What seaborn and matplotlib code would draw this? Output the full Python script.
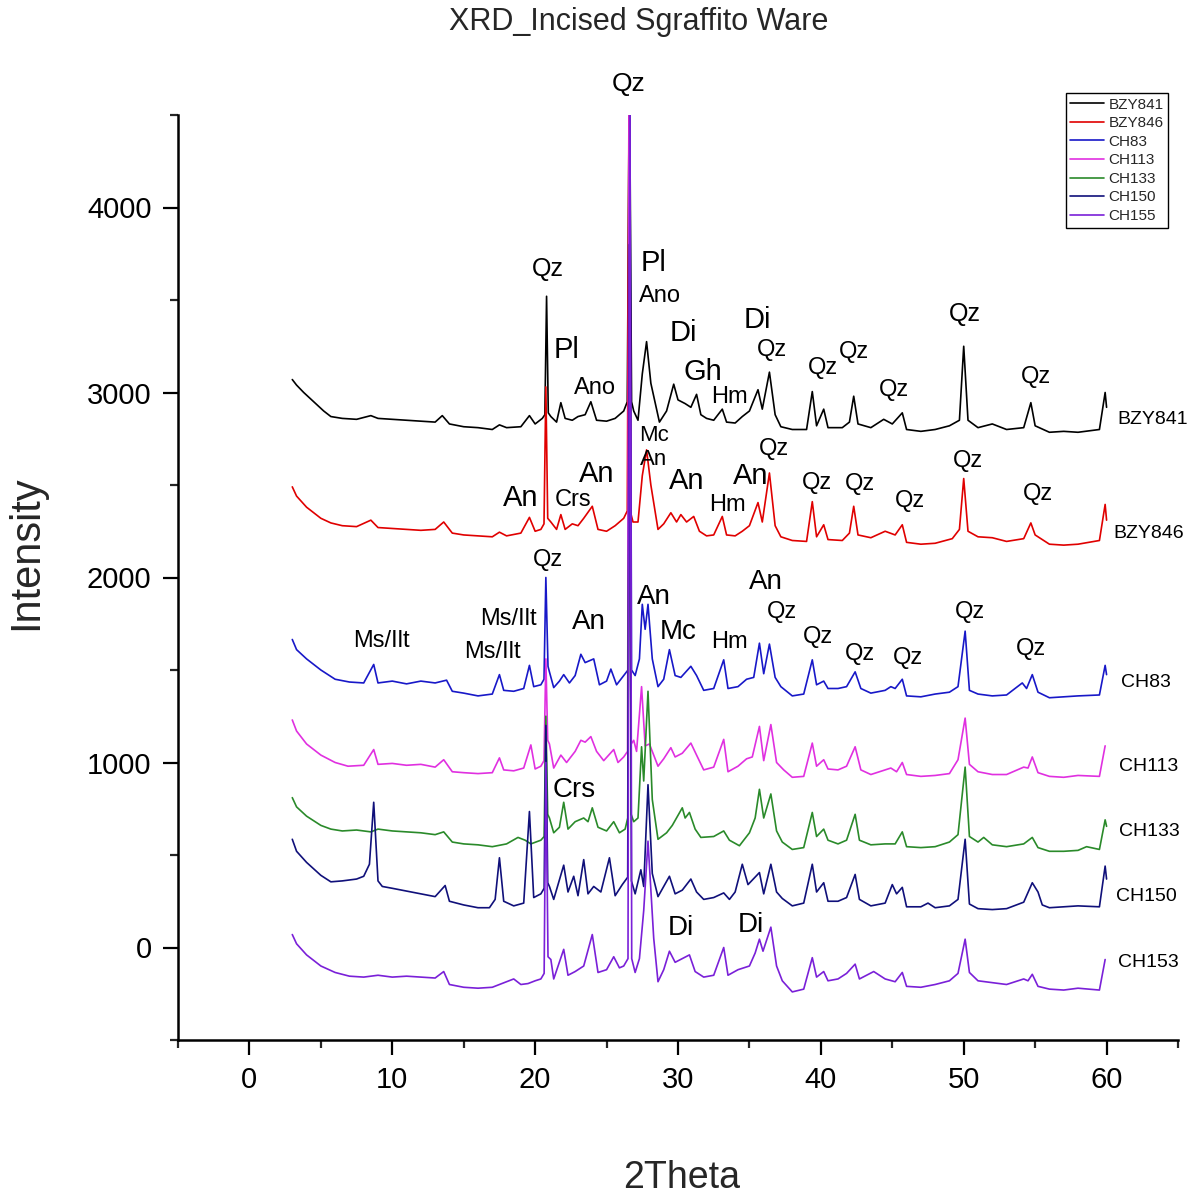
import matplotlib
matplotlib.use("Agg")
import matplotlib.pyplot as plt
from matplotlib.lines import Line2D
from matplotlib.ticker import MultipleLocator
import seaborn as sns
import pandas as pd

# ---------------- data (2theta, intensity as plotted, stacked) ----------------
samples = ["BZY841", "BZY846", "CH83", "CH113", "CH133", "CH150", "CH155"]
end_labels = ["BZY841", "BZY846", "CH83", "CH113", "CH133", "CH150", "CH153"]
colors = ["#000000", "#e00000", "#1818c8", "#e030e0", "#2a8a2a", "#10107a", "#7a20d8"]

bzy841_x = [3.0, 3.3, 3.8, 4.5, 5.2, 5.7, 6.5, 7.5, 8.5, 9.0, 10.0, 11.0, 12.0, 13.0, 13.5, 14.0, 15.0, 16.0, 17.0, 17.5,
            18.0, 19.0, 19.6, 20.0, 20.5, 20.68, 20.8, 20.92, 21.1, 21.5, 21.8, 22.1, 22.6, 23.0, 23.5, 23.9, 24.3, 25.0,
            25.6, 26.2, 26.45, 26.6, 26.75, 26.9, 27.2, 27.5, 27.8, 28.1, 28.7, 29.2, 29.7, 30.0, 30.5, 30.9, 31.3, 31.6,
            32.0, 32.5, 33.1, 33.4, 34.0, 34.5, 35.0, 35.6, 35.9, 36.4, 36.8, 37.2, 38.0, 39.0, 39.4, 39.7, 40.2, 40.5,
            41.5, 42.0, 42.3, 42.6, 43.5, 44.4, 45.0, 45.7, 46.0, 47.0, 48.0, 49.0, 49.7, 50.0, 50.3, 51.0, 52.0, 53.0,
            54.2, 54.7, 55.0, 56.0, 57.0, 58.0, 59.5, 59.9, 60.0]
bzy841_y = [3070, 3040, 3000, 2950, 2900, 2870, 2860, 2855, 2875, 2860, 2855, 2850, 2845, 2840, 2875, 2830, 2815, 2810, 2800, 2825,
            2810, 2815, 2875, 2830, 2860, 2880, 3520, 2890, 2870, 2840, 2945, 2860, 2850, 2870, 2880, 2950, 2850, 2845,
            2860, 2900, 2950, 4800, 2950, 2900, 2850, 3100, 3275, 3050, 2840, 2900, 3045, 2960, 2940, 2920, 2990, 2880,
            2860, 2850, 2910, 2840, 2835, 2870, 2900, 3015, 2910, 3110, 2880, 2815, 2800, 2800, 3005, 2820, 2910, 2810,
            2810, 2840, 2980, 2830, 2810, 2855, 2830, 2890, 2800, 2790, 2800, 2820, 2850, 3250, 2850, 2810, 2830, 2800,
            2810, 2945, 2820, 2785, 2790, 2785, 2800, 3000, 2920]

bzy846_x = [3.0, 3.3, 4.0, 5.0, 5.7, 6.5, 7.5, 8.5, 9.0, 10.0, 11.0, 12.0, 13.0, 13.6, 14.2, 15.0, 16.0, 17.0, 17.5, 18.0,
            19.0, 19.6, 20.0, 20.4, 20.62, 20.75, 20.88, 21.1, 21.5, 21.8, 22.1, 22.6, 23.0, 23.4, 24.0, 24.4, 25.0, 25.6,
            26.2, 26.45, 26.58, 26.72, 26.85, 27.2, 27.5, 27.8, 28.1, 28.6, 29.0, 29.5, 29.9, 30.2, 30.6, 31.1, 31.5, 32.0,
            32.5, 33.1, 33.4, 34.0, 34.5, 35.0, 35.6, 35.9, 36.4, 36.8, 37.2, 38.0, 39.0, 39.4, 39.7, 40.2, 40.5, 41.5,
            42.0, 42.3, 42.6, 43.5, 44.5, 45.2, 45.7, 46.0, 47.0, 48.0, 49.2, 49.7, 50.0, 50.3, 51.0, 52.0, 53.0, 54.2,
            54.7, 55.0, 56.0, 57.0, 58.0, 59.5, 59.9, 60.0]
bzy846_y = [2490, 2440, 2380, 2320, 2295, 2280, 2275, 2310, 2270, 2265, 2260, 2255, 2260, 2300, 2240, 2230, 2225, 2220, 2245, 2225,
            2240, 2325, 2250, 2260, 2290, 3030, 2320, 2300, 2260, 2340, 2260, 2290, 2280, 2320, 2385, 2260, 2250, 2280,
            2320, 2360, 4800, 2340, 2300, 2300, 2550, 2690, 2500, 2260, 2290, 2350, 2300, 2340, 2300, 2330, 2250, 2225,
            2230, 2330, 2230, 2225, 2250, 2280, 2405, 2300, 2565, 2280, 2220, 2200, 2195, 2410, 2220, 2285, 2205, 2200,
            2240, 2385, 2230, 2215, 2250, 2230, 2285, 2190, 2180, 2185, 2210, 2260, 2535, 2250, 2220, 2215, 2195, 2210,
            2295, 2230, 2180, 2175, 2180, 2200, 2395, 2310]

ch83_x = [3.0, 3.3, 4.0, 5.0, 6.0, 7.0, 8.0, 8.7, 9.0, 10.0, 11.0, 12.0, 13.0, 13.8, 14.2, 15.0, 16.0, 17.0, 17.5, 17.8,
          18.5, 19.2, 19.6, 19.9, 20.4, 20.62, 20.75, 20.9, 21.0, 21.3, 21.7, 22.0, 22.4, 22.8, 23.2, 23.5, 24.1, 24.5,
          25.0, 25.3, 25.7, 26.2, 26.5, 26.62, 26.75, 27.0, 27.3, 27.5, 27.7, 27.9, 28.2, 28.6, 29.0, 29.4, 29.8, 30.2,
          30.9, 31.3, 31.8, 32.5, 33.2, 33.5, 34.2, 34.8, 35.3, 35.7, 36.0, 36.4, 36.8, 37.2, 38.0, 38.8, 39.4, 39.7,
          40.2, 40.5, 41.2, 41.8, 42.4, 42.8, 43.5, 44.5, 44.9, 45.2, 45.7, 46.0, 47.0, 48.0, 49.0, 49.6, 50.1, 50.4,
          51.0, 52.0, 53.0, 54.1, 54.4, 54.8, 55.2, 56.0, 57.0, 58.0, 59.5, 59.9, 60.0]
ch83_y = [1665, 1610, 1560, 1500, 1450, 1435, 1430, 1530, 1430, 1440, 1425, 1440, 1430, 1445, 1385, 1375, 1360, 1370, 1475, 1390,
          1385, 1400, 1525, 1410, 1420, 1450, 2000, 1520, 1490, 1405, 1440, 1475, 1430, 1470, 1585, 1540, 1560, 1420,
          1440, 1505, 1420, 1470, 1500, 4800, 1500, 1470, 1560, 1855, 1720, 1855, 1560, 1410, 1450, 1610, 1470, 1460,
          1520, 1470, 1390, 1400, 1555, 1400, 1410, 1450, 1460, 1645, 1480, 1640, 1460, 1410, 1360, 1370, 1555, 1420,
          1440, 1400, 1400, 1410, 1490, 1400, 1375, 1390, 1410, 1400, 1450, 1360, 1355, 1370, 1380, 1410, 1710, 1390,
          1370, 1360, 1365, 1430, 1400, 1475, 1380, 1350, 1355, 1360, 1365, 1525, 1475]

ch113_x = [3.0, 3.3, 4.0, 5.0, 6.0, 6.9, 8.0, 8.7, 9.0, 10.0, 11.0, 12.0, 13.0, 13.6, 14.2, 15.0, 16.0, 17.0, 17.5, 17.8,
           18.5, 19.2, 19.7, 20.0, 20.4, 20.62, 20.75, 20.88, 21.0, 21.3, 21.8, 22.2, 22.8, 23.2, 23.5, 23.9, 24.3, 24.8,
           25.5, 25.8, 26.2, 26.47, 26.58, 26.72, 26.9, 27.1, 27.45, 27.7, 28.0, 28.6, 29.0, 29.5, 29.8, 30.3, 30.9, 31.3,
           31.8, 32.5, 33.2, 33.5, 34.2, 34.8, 35.2, 35.7, 36.0, 36.5, 36.9, 37.4, 38.0, 38.8, 39.4, 39.7, 40.2, 40.5,
           41.2, 41.8, 42.4, 42.8, 43.5, 44.5, 44.9, 45.3, 45.7, 46.0, 47.0, 48.0, 49.0, 49.6, 50.1, 50.4, 51.0, 52.0,
           53.0, 54.2, 54.5, 54.8, 55.2, 56.0, 57.0, 58.0, 59.5, 59.9]
ch113_y = [1230, 1170, 1100, 1040, 1000, 980, 985, 1070, 990, 995, 985, 990, 975, 1015, 950, 945, 940, 945, 1025, 960,
           955, 970, 1095, 965, 980, 1010, 1560, 1120, 1100, 970, 1040, 1000, 1060, 1120, 1110, 1140, 1060, 1010,
           1070, 1000, 1030, 1060, 4800, 1100, 1120, 1060, 1410, 1090, 1100, 980, 1020, 1080, 1030, 1050, 1105, 1040,
           960, 975, 1125, 950, 980, 1020, 1030, 1195, 1010, 1205, 1000, 960, 920, 925, 1105, 980, 1015, 965,
           960, 980, 1085, 960, 935, 960, 970, 950, 1000, 935, 925, 930, 940, 1015, 1240, 990, 950, 935,
           935, 975, 970, 1030, 945, 925, 920, 930, 925, 1090]

ch133_x = [3.0, 3.3, 4.0, 5.0, 5.7, 6.5, 7.5, 8.5, 9.0, 10.0, 11.0, 12.0, 13.0, 13.6, 14.2, 15.0, 16.0, 17.0, 18.0, 18.8,
           19.3, 19.7, 20.4, 20.63, 20.75, 20.88, 21.0, 21.3, 21.7, 22.0, 22.3, 22.8, 23.4, 23.7, 24.0, 24.4, 25.0, 25.5,
           25.9, 26.3, 26.48, 26.6, 26.72, 26.9, 27.2, 27.45, 27.6, 27.9, 28.2, 28.6, 29.2, 29.6, 30.3, 30.5, 30.8, 31.2,
           31.6, 32.5, 33.2, 33.6, 34.3, 35.0, 35.4, 35.7, 36.0, 36.5, 36.9, 37.3, 38.0, 38.8, 39.4, 39.7, 40.2, 40.5,
           41.2, 41.8, 42.4, 42.7, 43.5, 44.5, 45.2, 45.7, 46.0, 47.0, 48.0, 49.0, 49.6, 50.1, 50.4, 51.0, 51.4, 52.0,
           53.0, 54.2, 54.8, 55.2, 56.0, 57.0, 58.0, 58.6, 59.5, 59.9, 60.0]
ch133_y = [810, 760, 710, 660, 640, 630, 635, 625, 640, 630, 625, 620, 610, 625, 570, 560, 555, 545, 560, 595,
           580, 560, 580, 600, 1250, 720, 700, 620, 650, 785, 640, 680, 700, 680, 755, 650, 630, 680,
           620, 640, 700, 3000, 720, 680, 700, 1085, 900, 1385, 800, 585, 620, 660, 755, 700, 730, 640,
           595, 600, 630, 580, 550, 620, 700, 855, 700, 830, 630, 570, 530, 540, 730, 600, 640, 580,
           560, 580, 720, 580, 555, 560, 560, 625, 545, 540, 545, 570, 610, 975, 600, 570, 595, 555,
           545, 560, 595, 540, 520, 520, 525, 545, 530, 690, 655]

ch150_x = [3.0, 3.3, 4.0, 5.0, 5.7, 6.5, 7.5, 8.0, 8.4, 8.7, 9.0, 9.3, 10.0, 11.0, 12.0, 13.0, 13.7, 14.0, 15.0, 16.0,
           16.8, 17.2, 17.5, 17.8, 18.5, 19.2, 19.6, 19.9, 20.4, 20.63, 20.75, 20.88, 21.0, 21.3, 22.0, 22.3, 22.7, 23.0,
           23.4, 23.7, 24.1, 24.6, 25.2, 25.6, 26.1, 26.48, 26.6, 26.74, 27.0, 27.4, 27.6, 27.9, 28.2, 28.6, 29.4, 29.8,
           30.3, 30.9, 31.3, 31.8, 32.5, 33.2, 33.6, 34.0, 34.5, 34.9, 35.7, 36.0, 36.5, 36.9, 37.3, 38.0, 38.8, 39.4,
           39.7, 40.2, 40.5, 41.2, 41.8, 42.4, 42.7, 43.5, 44.5, 45.0, 45.3, 45.7, 46.0, 47.0, 47.5, 48.0, 49.0, 49.6,
           50.1, 50.4, 51.0, 52.0, 53.0, 54.2, 54.8, 55.2, 55.5, 56.0, 57.0, 58.0, 59.5, 59.9, 60.0]
ch150_y = [585, 520, 460, 390, 355, 360, 370, 385, 450, 785, 360, 330, 320, 305, 290, 275, 335, 250, 230, 215,
           215, 260, 485, 250, 225, 240, 735, 270, 290, 320, 1200, 350, 330, 260, 445, 300, 385, 280,
           475, 290, 330, 300, 485, 280, 340, 380, 3800, 360, 290, 420, 330, 880, 400, 275, 385, 290,
           310, 370, 300, 260, 270, 295, 260, 300, 450, 340, 405, 290, 450, 300, 265, 225, 240, 450,
           300, 350, 250, 250, 270, 395, 260, 225, 240, 340, 290, 325, 220, 220, 240, 215, 225, 260,
           585, 235, 210, 205, 210, 245, 350, 300, 230, 215, 220, 225, 220, 440, 370]

ch155_x = [3.0, 3.3, 4.0, 5.0, 6.0, 7.0, 8.0, 9.0, 10.0, 11.0, 12.0, 13.0, 13.6, 14.0, 15.0, 16.0, 17.0, 18.5, 19.0, 19.5,
           20.0, 20.4, 20.63, 20.75, 20.9, 21.1, 21.3, 22.0, 22.3, 22.8, 23.4, 24.0, 24.4, 25.0, 25.5, 25.9, 26.2, 26.5,
           26.63, 26.76, 27.0, 27.3, 27.6, 27.9, 28.3, 28.6, 29.0, 29.4, 29.8, 30.3, 30.8, 31.2, 31.8, 32.5, 33.2, 33.5,
           34.2, 35.0, 35.4, 35.7, 35.95, 36.5, 36.9, 37.3, 38.0, 38.8, 39.4, 39.7, 40.2, 40.5, 41.2, 41.8, 42.4, 42.7,
           43.2, 43.7, 44.5, 45.2, 45.7, 46.0, 47.0, 48.0, 49.0, 49.6, 50.1, 50.4, 51.0, 52.0, 53.0, 54.2, 54.5, 54.8,
           55.2, 56.0, 57.0, 58.0, 59.5, 59.9]
ch155_y = [70, 20, -40, -100, -135, -155, -160, -150, -160, -155, -160, -165, -130, -200, -215, -220, -215, -170, -200, -195,
           -180, -170, -140, 1000, -50, -65, -170, -10, -150, -130, -100, 70, -135, -120, -50, -110, -100, -60,
           4800, -60, -135, -60, 200, 575, 50, -185, -120, -20, -80, -60, -40, -130, -160, -150, 0, -150,
           -120, -100, -30, 45, -20, 110, -100, -180, -240, -225, -55, -160, -130, -180, -170, -140, -90, -170,
           -150, -130, -170, -185, -135, -210, -215, -200, -180, -140, 45, -135, -180, -190, -200, -170, -180, -145,
           -210, -225, -230, -220, -230, -65]

series_x = [bzy841_x, bzy846_x, ch83_x, ch113_x, ch133_x, ch150_x, ch155_x]
series_y = [bzy841_y, bzy846_y, ch83_y, ch113_y, ch133_y, ch150_y, ch155_y]

# right-hand sample labels (x, y)
end_label_x = [60.77, 60.49, 60.98, 60.84, 60.84, 60.63, 60.77]
end_label_y = [2854, 2238, 1432, 978, 627, 276, -81]

# phase annotations: text, x, y, fontsize
phase_text = ["Qz",
              "Qz", "Pl", "Ano", "Pl", "Ano", "Di", "Gh", "Hm", "Di", "Qz", "Qz", "Qz", "Qz", "Qz", "Qz",
              "An", "Crs", "An", "Mc", "An", "An", "Hm", "An", "Qz", "Qz", "Qz", "Qz", "Qz", "Qz",
              "Ms/Ilt", "Ms/Ilt", "Ms/Ilt", "Qz", "An", "An", "Mc", "Hm", "An", "Qz", "Qz", "Qz", "Qz", "Qz", "Qz",
              "Crs", "Di", "Di"]
phase_x = [26.57,
           20.91, 22.17, 24.20, 28.32, 28.74, 30.35, 31.75, 33.57, 35.59, 36.57, 40.14, 42.31, 45.10, 50.07, 55.03,
           19.02, 22.66, 24.34, 28.32, 28.32, 30.63, 33.43, 35.10, 36.71, 39.72, 42.73, 46.22, 50.28, 55.17,
           9.23, 18.11, 16.99, 20.91, 23.78, 28.32, 30.00, 33.57, 36.15, 37.27, 39.79, 42.73, 46.08, 50.42, 54.69,
           22.73, 30.21, 35.10]
phase_y = [4665,
           3665, 3232, 3027, 3702, 3519, 3324, 3113, 2973, 3394, 3232, 3135, 3221, 3016, 3427, 3086,
           2432, 2421, 2562, 2770, 2640, 2519, 2394, 2551, 2697, 2513, 2503, 2411, 2632, 2454,
           1659, 1773, 1600, 2092, 1762, 1897, 1703, 1654, 1973, 1816, 1676, 1584, 1567, 1816, 1611,
           854, 103, 119]
phase_size = [19,
              18, 21, 17, 21, 17, 21, 21, 17, 21, 17, 17, 17, 17, 18, 17,
              21, 17, 21, 16, 16, 21, 17, 21, 17, 17, 17, 17, 17, 17,
              17, 17, 17, 17, 20, 20, 20, 17, 20, 17, 17, 17, 17, 17, 17,
              20, 20, 20]

# ---------------- plotting ----------------
sns.set_style("ticks")
plt.rcParams["font.family"] = ["Liberation Sans", "DejaVu Sans"]

fig = plt.figure(figsize=(11.96, 12.01), dpi=100)
ax = fig.add_axes([178 / 1196, 1 - 1040 / 1201, 1000 / 1196, 925 / 1201])

for name, xs, ys, col in zip(samples, series_x, series_y, colors):
    df = pd.DataFrame({"2Theta": xs, "Intensity": ys})
    sns.lineplot(data=df, x="2Theta", y="Intensity", ax=ax, color=col, linewidth=1.2,
                 sort=False, estimator=None, legend=False)

ax.set_xlim(-5, 65)
ax.set_ylim(-500, 4500)
ax.xaxis.set_major_locator(MultipleLocator(10))
ax.xaxis.set_minor_locator(MultipleLocator(5))
ax.yaxis.set_major_locator(MultipleLocator(1000))
ax.yaxis.set_minor_locator(MultipleLocator(500))
for s in ["top", "right"]:
    ax.spines[s].set_visible(False)
for s in ["left", "bottom"]:
    ax.spines[s].set_linewidth(1.8)
    ax.spines[s].set_color("black")
ax.tick_params(which="major", direction="out", length=11, width=1.6, labelsize=21, pad=8, colors="black")
ax.tick_params(which="minor", direction="out", length=6, width=1.6)
ax.set_xlabel("")
ax.set_ylabel("")

for t, x, y, fs in zip(phase_text, phase_x, phase_y, phase_size):
    ax.text(x, y, t, ha="center", va="center", fontsize=fs, color="black")

for t, x, y in zip(end_labels, end_label_x, end_label_y):
    ax.text(x, y, t, ha="left", va="center", fontsize=14, color="black", clip_on=False)

fig.text(639 / 1196, 1 - 22 / 1201, "XRD_Incised Sgraffito Ware", ha="center", va="center", fontsize=22)
fig.text(26 / 1196, 1 - 553 / 1201, "Intensity", ha="center", va="center", rotation=90, fontsize=30)
fig.text(682 / 1196, 1 - 1178 / 1201, "2Theta", ha="center", va="center", fontsize=27)

handles = [Line2D([0], [0], color=c, lw=1.2) for c in colors]
leg = fig.legend(handles, samples, loc="upper right", bbox_to_anchor=(1168 / 1196, 1 - 93 / 1201),
                 fontsize=11, frameon=True, fancybox=False, edgecolor="black", framealpha=1,
                 handlelength=2.2, handletextpad=0.3, labelspacing=0.3, borderpad=0.3, borderaxespad=0)
leg.get_frame().set_linewidth(1.0)

fig.savefig("out.png", dpi=100)
